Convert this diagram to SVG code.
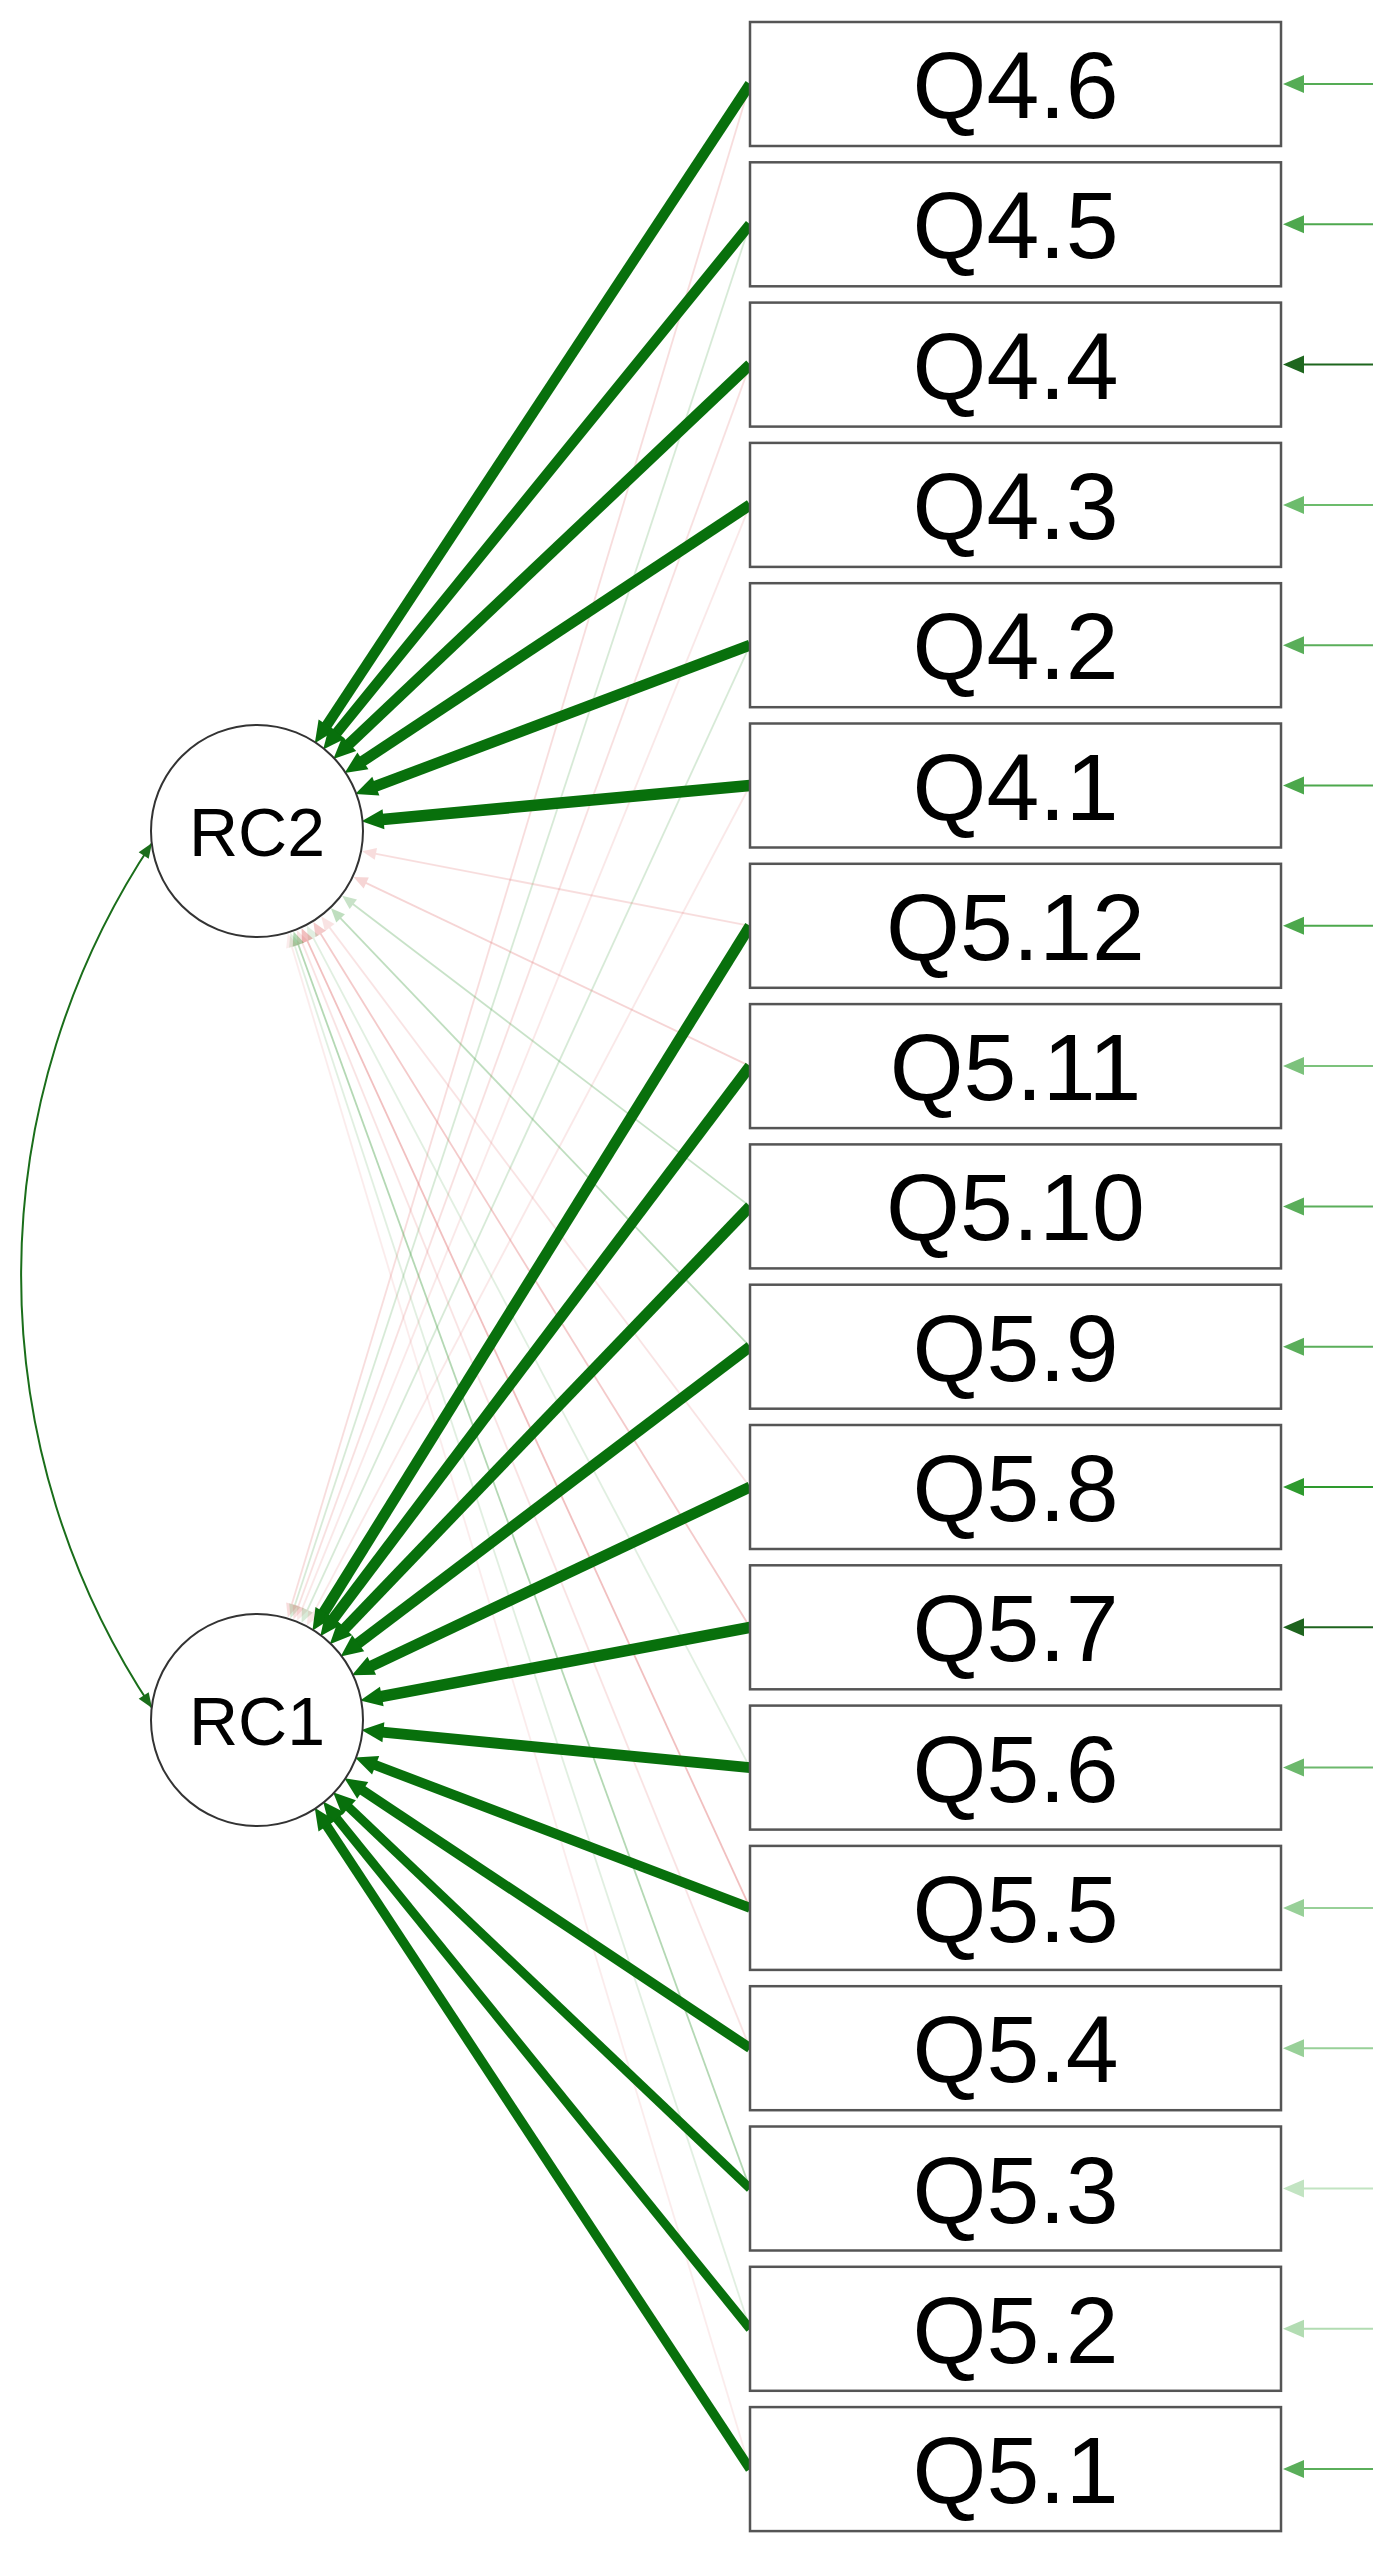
<svg xmlns="http://www.w3.org/2000/svg" width="1390" height="2557" viewBox="0 0 1390 2557">
<style>
.box{fill:#fff;stroke:#555;stroke-width:2.5}
.lat{fill:#fff;stroke:#333;stroke-width:2}
.lbl{font-family:"Liberation Sans",Arial,sans-serif;font-size:95px;text-anchor:middle;fill:#000}
.llbl{font-family:"Liberation Sans",Arial,sans-serif;font-size:68px;text-anchor:middle;fill:#000}
.main{stroke:#08700c;fill:none;marker-end:url(#mh)}
.xp{stroke:#e06a6a;stroke-width:1.8;fill:none;marker-end:url(#xpk)}
.xg{stroke:#3c9a3c;stroke-width:1.8;fill:none;marker-end:url(#xgr)}
.res line{stroke-width:2}
</style>
<defs>
<marker id="mh" viewBox="0 -10 22 20" refX="1" refY="0" markerWidth="22" markerHeight="20" markerUnits="userSpaceOnUse" orient="auto" overflow="visible"><path d="M0,-10 L22,0 L0,10 z" fill="#08700c"/></marker>
<marker id="xpk" viewBox="0 -6 14 12" refX="1" refY="0" markerWidth="14" markerHeight="12" markerUnits="userSpaceOnUse" orient="auto" overflow="visible"><path d="M0,-6 L14,0 L0,6 z" fill="#e06a6a"/></marker>
<marker id="xgr" viewBox="0 -6 14 12" refX="1" refY="0" markerWidth="14" markerHeight="12" markerUnits="userSpaceOnUse" orient="auto" overflow="visible"><path d="M0,-6 L14,0 L0,6 z" fill="#3c9a3c"/></marker>
<marker id="ch" viewBox="0 -6 15 12" refX="15" refY="0" markerWidth="15" markerHeight="12" markerUnits="userSpaceOnUse" orient="auto-start-reverse" overflow="visible"><path d="M0,-6 L15,0 L0,6 z" fill="#1a6e1a"/></marker>
</defs>
<rect width="1390" height="2557" fill="#fff"/>
<g id="connectors">
<g opacity="0.22"><line class="xp" x1="750" y1="84" x2="291.6" y2="1605.1"/></g>
<g opacity="0.2"><line class="xg" x1="750" y1="224.3" x2="294.6" y2="1606"/></g>
<g opacity="0.2"><line class="xp" x1="750" y1="364.6" x2="298" y2="1607.2"/></g>
<g opacity="0.15"><line class="xp" x1="750" y1="504.9" x2="302.1" y2="1608.8"/></g>
<g opacity="0.2"><line class="xg" x1="750" y1="645.2" x2="307" y2="1610.9"/></g>
<g opacity="0.15"><line class="xp" x1="750" y1="785.5" x2="313" y2="1613.9"/></g>
<g opacity="0.22"><line class="xp" x1="750" y1="925.8" x2="374.9" y2="853.7"/></g>
<g opacity="0.28"><line class="xp" x1="750" y1="1066.1" x2="365.3" y2="882.6"/></g>
<g opacity="0.28"><line class="xg" x1="750" y1="1206.4" x2="352.5" y2="903.7"/></g>
<g opacity="0.32"><line class="xg" x1="750" y1="1346.7" x2="339.9" y2="917.7"/></g>
<g opacity="0.18"><line class="xp" x1="750" y1="1487" x2="329.1" y2="926.9"/></g>
<g opacity="0.35"><line class="xp" x1="750" y1="1627.3" x2="320.2" y2="933"/></g>
<g opacity="0.15"><line class="xg" x1="750" y1="1767.6" x2="312.9" y2="937.2"/></g>
<g opacity="0.42"><line class="xp" x1="750" y1="1907.9" x2="307" y2="940.1"/></g>
<g opacity="0.18"><line class="xp" x1="750" y1="2048.2" x2="302" y2="942.2"/></g>
<g opacity="0.38"><line class="xg" x1="750" y1="2188.5" x2="298" y2="943.8"/></g>
<g opacity="0.15"><line class="xg" x1="750" y1="2328.8" x2="294.5" y2="945"/></g>
<g opacity="0.12"><line class="xp" x1="750" y1="2469.1" x2="291.6" y2="945.9"/></g>
<line class="main" stroke-width="10.5" x1="750" y1="84" x2="326.4" y2="725.8"/>
<line class="main" stroke-width="10.5" x1="750" y1="224.3" x2="336.4" y2="733.2"/>
<line class="main" stroke-width="11" x1="750" y1="364.6" x2="348.6" y2="744.5"/>
<line class="main" stroke-width="11" x1="750" y1="504.9" x2="362.1" y2="761.5"/>
<line class="main" stroke-width="11" x1="750" y1="645.2" x2="374.9" y2="786.5"/>
<line class="main" stroke-width="11.5" x1="750" y1="785.5" x2="382.5" y2="819.4"/>
<line class="main" stroke-width="11" x1="750" y1="925.8" x2="323.5" y2="1613"/>
<line class="main" stroke-width="11" x1="750" y1="1066.1" x2="332.9" y2="1619.4"/>
<line class="main" stroke-width="11" x1="750" y1="1206.4" x2="344.3" y2="1629.1"/>
<line class="main" stroke-width="11" x1="750" y1="1346.7" x2="357.4" y2="1643.9"/>
<line class="main" stroke-width="11" x1="750" y1="1487" x2="370.9" y2="1666.2"/>
<line class="main" stroke-width="11.5" x1="750" y1="1627.3" x2="380.8" y2="1696.7"/>
<line class="main" stroke-width="11" x1="750" y1="1767.6" x2="382.4" y2="1732.1"/>
<line class="main" stroke-width="10" x1="750" y1="1907.9" x2="374.7" y2="1764.9"/>
<line class="main" stroke-width="10" x1="750" y1="2048.2" x2="361.9" y2="1789.8"/>
<line class="main" stroke-width="9" x1="750" y1="2188.5" x2="348.3" y2="1806.8"/>
<line class="main" stroke-width="9" x1="750" y1="2328.8" x2="336.3" y2="1817.9"/>
<line class="main" stroke-width="9.5" x1="750" y1="2469.1" x2="326.3" y2="1825.2"/>
<path d="M152,843 A780,780 0 0 0 152,1708" fill="none" stroke="#1a6e1a" stroke-width="2" marker-start="url(#ch)" marker-end="url(#ch)"/>
<g class="res" stroke="#55ac55" fill="#55ac55"><line x1="1373" y1="84" x2="1300" y2="84"/><path d="M1283,84 l21,-9 v18 z" stroke="none"/></g>
<g class="res" stroke="#4ea84e" fill="#4ea84e"><line x1="1373" y1="224.3" x2="1300" y2="224.3"/><path d="M1283,224.3 l21,-9 v18 z" stroke="none"/></g>
<g class="res" stroke="#1e661e" fill="#1e661e"><line x1="1373" y1="364.6" x2="1300" y2="364.6"/><path d="M1283,364.6 l21,-9 v18 z" stroke="none"/></g>
<g class="res" stroke="#6cbc6c" fill="#6cbc6c"><line x1="1373" y1="504.9" x2="1300" y2="504.9"/><path d="M1283,504.9 l21,-9 v18 z" stroke="none"/></g>
<g class="res" stroke="#5aae5a" fill="#5aae5a"><line x1="1373" y1="645.2" x2="1300" y2="645.2"/><path d="M1283,645.2 l21,-9 v18 z" stroke="none"/></g>
<g class="res" stroke="#4ca84c" fill="#4ca84c"><line x1="1373" y1="785.5" x2="1300" y2="785.5"/><path d="M1283,785.5 l21,-9 v18 z" stroke="none"/></g>
<g class="res" stroke="#4ca84c" fill="#4ca84c"><line x1="1373" y1="925.8" x2="1300" y2="925.8"/><path d="M1283,925.8 l21,-9 v18 z" stroke="none"/></g>
<g class="res" stroke="#7cc27c" fill="#7cc27c"><line x1="1373" y1="1066.1" x2="1300" y2="1066.1"/><path d="M1283,1066.1 l21,-9 v18 z" stroke="none"/></g>
<g class="res" stroke="#5aae5a" fill="#5aae5a"><line x1="1373" y1="1206.4" x2="1300" y2="1206.4"/><path d="M1283,1206.4 l21,-9 v18 z" stroke="none"/></g>
<g class="res" stroke="#5aae5a" fill="#5aae5a"><line x1="1373" y1="1346.7" x2="1300" y2="1346.7"/><path d="M1283,1346.7 l21,-9 v18 z" stroke="none"/></g>
<g class="res" stroke="#2e9a2e" fill="#2e9a2e"><line x1="1373" y1="1487" x2="1300" y2="1487"/><path d="M1283,1487 l21,-9 v18 z" stroke="none"/></g>
<g class="res" stroke="#1e641e" fill="#1e641e"><line x1="1373" y1="1627.3" x2="1300" y2="1627.3"/><path d="M1283,1627.3 l21,-9 v18 z" stroke="none"/></g>
<g class="res" stroke="#6cb86c" fill="#6cb86c"><line x1="1373" y1="1767.6" x2="1300" y2="1767.6"/><path d="M1283,1767.6 l21,-9 v18 z" stroke="none"/></g>
<g class="res" stroke="#98d098" fill="#98d098"><line x1="1373" y1="1907.9" x2="1300" y2="1907.9"/><path d="M1283,1907.9 l21,-9 v18 z" stroke="none"/></g>
<g class="res" stroke="#98d098" fill="#98d098"><line x1="1373" y1="2048.2" x2="1300" y2="2048.2"/><path d="M1283,2048.2 l21,-9 v18 z" stroke="none"/></g>
<g class="res" stroke="#c2e4c2" fill="#c2e4c2"><line x1="1373" y1="2188.5" x2="1300" y2="2188.5"/><path d="M1283,2188.5 l21,-9 v18 z" stroke="none"/></g>
<g class="res" stroke="#b2dcb2" fill="#b2dcb2"><line x1="1373" y1="2328.8" x2="1300" y2="2328.8"/><path d="M1283,2328.8 l21,-9 v18 z" stroke="none"/></g>
<g class="res" stroke="#5aae5a" fill="#5aae5a"><line x1="1373" y1="2469.1" x2="1300" y2="2469.1"/><path d="M1283,2469.1 l21,-9 v18 z" stroke="none"/></g>
</g>
<g id="RC2"><circle class="lat" cx="257" cy="831" r="106"/><text class="llbl" x="257" y="856">RC2</text></g>
<g id="RC1"><circle class="lat" cx="257" cy="1720" r="106"/><text class="llbl" x="257" y="1745">RC1</text></g>
<g id="Q4.6"><rect class="box" x="750" y="22" width="531" height="124"/><text class="lbl" x="1015.5" y="118">Q4.6</text></g>
<g id="Q4.5"><rect class="box" x="750" y="162.3" width="531" height="124"/><text class="lbl" x="1015.5" y="258.3">Q4.5</text></g>
<g id="Q4.4"><rect class="box" x="750" y="302.6" width="531" height="124"/><text class="lbl" x="1015.5" y="398.6">Q4.4</text></g>
<g id="Q4.3"><rect class="box" x="750" y="442.9" width="531" height="124"/><text class="lbl" x="1015.5" y="538.9">Q4.3</text></g>
<g id="Q4.2"><rect class="box" x="750" y="583.2" width="531" height="124"/><text class="lbl" x="1015.5" y="679.2">Q4.2</text></g>
<g id="Q4.1"><rect class="box" x="750" y="723.5" width="531" height="124"/><text class="lbl" x="1015.5" y="819.5">Q4.1</text></g>
<g id="Q5.12"><rect class="box" x="750" y="863.8" width="531" height="124"/><text class="lbl" x="1015.5" y="959.8">Q5.12</text></g>
<g id="Q5.11"><rect class="box" x="750" y="1004.1" width="531" height="124"/><text class="lbl" x="1015.5" y="1100.1">Q5.11</text></g>
<g id="Q5.10"><rect class="box" x="750" y="1144.4" width="531" height="124"/><text class="lbl" x="1015.5" y="1240.4">Q5.10</text></g>
<g id="Q5.9"><rect class="box" x="750" y="1284.7" width="531" height="124"/><text class="lbl" x="1015.5" y="1380.7">Q5.9</text></g>
<g id="Q5.8"><rect class="box" x="750" y="1425" width="531" height="124"/><text class="lbl" x="1015.5" y="1521">Q5.8</text></g>
<g id="Q5.7"><rect class="box" x="750" y="1565.3" width="531" height="124"/><text class="lbl" x="1015.5" y="1661.3">Q5.7</text></g>
<g id="Q5.6"><rect class="box" x="750" y="1705.6" width="531" height="124"/><text class="lbl" x="1015.5" y="1801.6">Q5.6</text></g>
<g id="Q5.5"><rect class="box" x="750" y="1845.9" width="531" height="124"/><text class="lbl" x="1015.5" y="1941.9">Q5.5</text></g>
<g id="Q5.4"><rect class="box" x="750" y="1986.2" width="531" height="124"/><text class="lbl" x="1015.5" y="2082.2">Q5.4</text></g>
<g id="Q5.3"><rect class="box" x="750" y="2126.5" width="531" height="124"/><text class="lbl" x="1015.5" y="2222.5">Q5.3</text></g>
<g id="Q5.2"><rect class="box" x="750" y="2266.8" width="531" height="124"/><text class="lbl" x="1015.5" y="2362.8">Q5.2</text></g>
<g id="Q5.1"><rect class="box" x="750" y="2407.1" width="531" height="124"/><text class="lbl" x="1015.5" y="2503.1">Q5.1</text></g>
</svg>
